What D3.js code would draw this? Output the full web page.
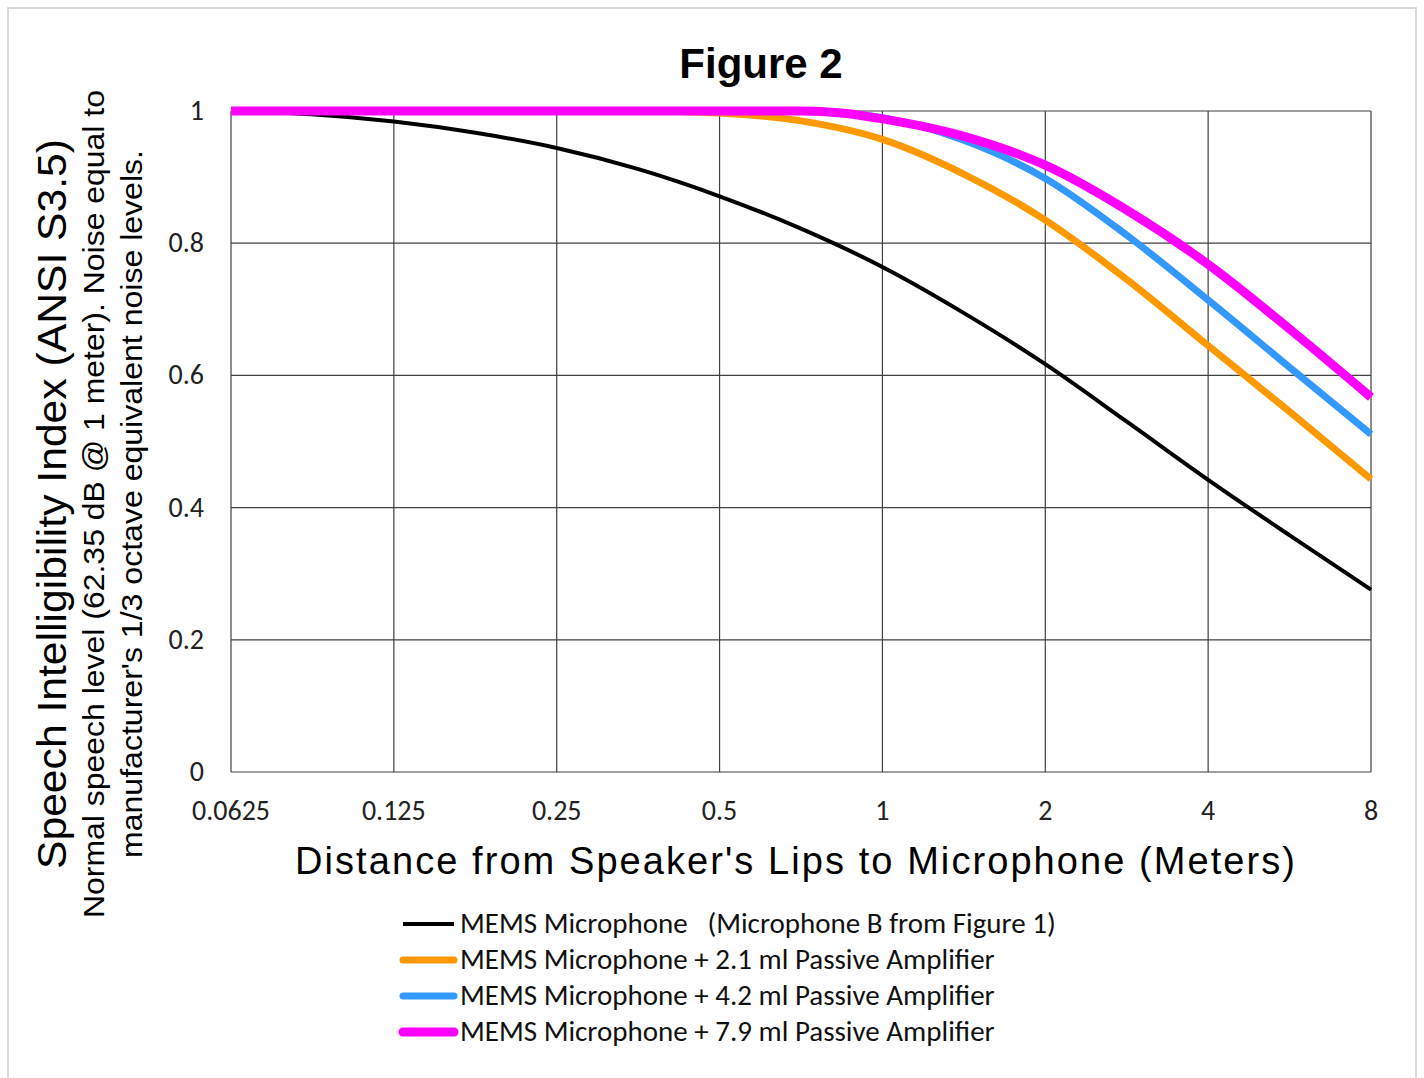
<!DOCTYPE html>
<html>
<head>
<meta charset="utf-8">
<script src="https://cdn.jsdelivr.net/npm/d3@7"></script>
<style>
  body { margin: 0; background: #fff; }
  svg { display: block; }
</style>
</head>
<body>
<svg id="chart" width="1424" height="1078"></svg>
<script>
// distances (meters) and SII readings per series
var seriesNames = [
  "MEMS Microphone   (Microphone B from Figure 1)",
  "MEMS Microphone + 2.1 ml Passive Amplifier",
  "MEMS Microphone + 4.2 ml Passive Amplifier",
  "MEMS Microphone + 7.9 ml Passive Amplifier"
];
var seriesColors = ["#000000", "#ff9900", "#3399ff", "#ff00ff"];
var seriesWidths = [4, 7, 7, 9];

var blackX = [0.0625, 0.088, 0.125, 0.177, 0.25, 0.354, 0.5, 0.707, 1, 1.41, 2, 2.83, 4, 5.66, 8];
var blackY = [1.0, 0.995, 0.984, 0.967, 0.944, 0.912, 0.871, 0.822, 0.764, 0.695, 0.617, 0.530, 0.442, 0.358, 0.276];

var orangeX = [0.0625, 0.125, 0.25, 0.354, 0.5, 0.707, 1, 1.41, 2, 2.83, 4, 5.66, 8];
var orangeY = [1.0, 1.0, 1.0, 1.0, 0.997, 0.985, 0.957, 0.905, 0.835, 0.745, 0.645, 0.545, 0.443];

var blueX = [0.0625, 0.125, 0.25, 0.5, 0.707, 0.84, 1, 1.41, 2, 2.83, 4, 5.66, 8];
var blueY = [1.0, 1.0, 1.0, 1.0, 1.0, 0.997, 0.99, 0.956, 0.898, 0.812, 0.714, 0.612, 0.511];

var magentaX = [0.0625, 0.125, 0.25, 0.5, 0.707, 0.84, 1, 1.41, 2, 2.83, 4, 5.66, 8];
var magentaY = [1.0, 1.0, 1.0, 1.0, 1.0, 0.997, 0.988, 0.962, 0.918, 0.850, 0.768, 0.670, 0.567];

var xTicks = [0.0625, 0.125, 0.25, 0.5, 1, 2, 4, 8];
var xTickLabels = ["0.0625", "0.125", "0.25", "0.5", "1", "2", "4", "8"];
var yTicks = [0, 0.2, 0.4, 0.6, 0.8, 1];
var yTickLabels = ["0", "0.2", "0.4", "0.6", "0.8", "1"];

var seriesX = [blackX, orangeX, blueX, magentaX];
var seriesY = [blackY, orangeY, blueY, magentaY];

const svg = d3.select("#chart"),
  width = +svg.attr("width"),
  height = +svg.attr("height");

const margin = {left: 231, right: 1371, top: 111, bottom: 772};
const tickFont = "Calibri, Carlito, Lato, sans-serif";

svg.append("rect")
  .attr("width", width).attr("height", height).attr("fill", "white");

// outer frame
svg.append("rect")
  .attr("x", 8).attr("y", 8)
  .attr("width", 1408).attr("height", 1076)
  .attr("fill", "none")
  .attr("stroke", "#d9d9d9")
  .attr("stroke-width", 2);

const x = d3.scaleLog().base(2)
  .domain([0.0625, 8])
  .range([margin.left, margin.right]);

const y = d3.scaleLinear()
  .domain([0, 1])
  .range([margin.bottom, margin.top]);

// grid
const grid = svg.append("g").attr("stroke", "#404040").attr("stroke-width", 1.2);
grid.selectAll(".vx").data(xTicks).enter().append("line")
  .attr("x1", d => x(d)).attr("x2", d => x(d))
  .attr("y1", y(0)).attr("y2", y(1));
grid.selectAll(".hy").data(yTicks).enter().append("line")
  .attr("x1", x(0.0625)).attr("x2", x(8))
  .attr("y1", d => y(d)).attr("y2", d => y(d));

// tick labels
svg.append("g").selectAll("text").data(yTicks).enter().append("text")
  .attr("x", 204)
  .attr("y", d => y(d) + 9)
  .attr("text-anchor", "end")
  .style("font-family", tickFont)
  .style("font-size", "28px")
  .style("fill", "#222")
  .text((d, i) => yTickLabels[i]);

svg.append("g").selectAll("text").data(xTicks).enter().append("text")
  .attr("x", d => x(d))
  .attr("y", 820)
  .attr("text-anchor", "middle")
  .style("font-family", tickFont)
  .style("font-size", "28px")
  .style("fill", "#222")
  .text((d, i) => xTickLabels[i]);

// curves
const line = d3.line()
  .x(d => x(d[0]))
  .y(d => y(d[1]))
  .curve(d3.curveMonotoneX);

seriesNames.forEach(function(name, i) {
  const pts = seriesX[i].map((v, j) => [v, seriesY[i][j]]);
  svg.append("path")
    .datum(pts)
    .attr("fill", "none")
    .attr("stroke", seriesColors[i])
    .attr("stroke-width", seriesWidths[i])
    .attr("d", line);
});

// title
svg.append("text")
  .attr("x", 761).attr("y", 78)
  .attr("text-anchor", "middle")
  .style("font-family", "Liberation Sans, Arial, sans-serif")
  .style("font-weight", "bold")
  .style("font-size", "42px")
  .text("Figure 2");

// x axis title
svg.append("text")
  .attr("x", 795).attr("y", 874)
  .attr("text-anchor", "middle")
  .attr("textLength", 1000)
  .attr("lengthAdjust", "spacing")
  .style("font-family", "Liberation Sans, Arial, sans-serif")
  .style("font-size", "38px")
  .text("Distance from Speaker's Lips to Microphone (Meters)");

// y axis titles
const yTitles = [
  {t: "Speech Intelligibility Index (ANSI S3.5)", x: 66, len: 730, size: 40},
  {t: "Normal speech level (62.35 dB @ 1 meter). Noise equal to", x: 104, len: 828, size: 29},
  {t: "manufacturer's 1/3 octave equivalent noise levels.", x: 142, len: 708, size: 29}
];
yTitles.forEach(function(d) {
  svg.append("text")
    .attr("transform", "translate(" + d.x + ",504) rotate(-90)")
    .attr("text-anchor", "middle")
    .attr("textLength", d.len)
    .attr("lengthAdjust", "spacingAndGlyphs")
    .style("font-family", "Liberation Sans, Arial, sans-serif")
    .style("font-size", d.size + "px")
    .text(d.t);
});

// legend
const legend = svg.append("g");
seriesNames.forEach(function(name, i) {
  const ly = 924 + i * 36;
  legend.append("line")
    .attr("x1", 403).attr("x2", 454)
    .attr("y1", ly).attr("y2", ly)
    .attr("stroke", seriesColors[i])
    .attr("stroke-width", seriesWidths[i])
    .attr("stroke-linecap", i == 0 ? "butt" : "round");
  legend.append("text")
    .attr("x", 460).attr("y", ly + 9)
    .style("font-family", tickFont)
    .style("font-size", "29px")
    .style("white-space", "pre")
    .style("fill", "#111")
    .text(name);
});
</script>
</body>
</html>
